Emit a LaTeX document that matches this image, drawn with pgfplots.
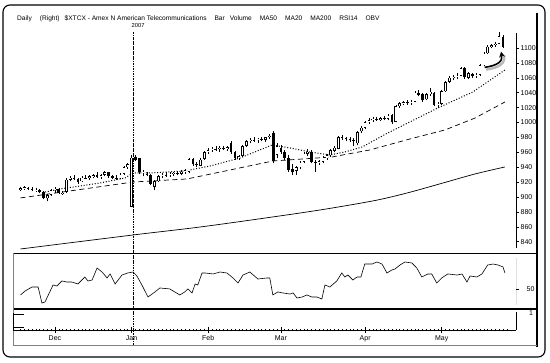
\documentclass[border=0pt]{standalone}
\usepackage{fontspec}
\setmainfont{Liberation Sans}
\usepackage{pgfplots}
\usepackage{pgfplotstable}
\pgfplotsset{compat=1.18}
\usetikzlibrary{arrows.meta}

% daily candles, x = trading day index (0 = 17 Nov 2006)
\pgfplotstableread{
i o h l c
0 910 914 908 912
1 912 915 910 913
4 909 912 907 910
7 898 904 894 902
8 903 911 901 909
9 909 913 906 911
11 905 908 903 906
12 907 925 906 923
13 923 928 921 926
16 921 928 920 926
18 925 930 923 928
19 927 931 925 929
21 927 931 924 929
22 930 935 928 933
26 925 932 924 930
27 931 942 930 940
28 940 946 938 944
29 887 956 886 953
32 932 936 928 934
35 914 923 910 921
36 921 930 920 928
37 928 932 926 930
39 929 933 927 931
40 931 934 928 932
42 931 936 929 934
43 934 938 931 936
44 934 953 932 951
47 942 952 941 950
48 951 962 950 960
49 961 966 958 963
50 963 967 961 965
52 964 968 961 966
54 965 968 962 967
57 953 957 950 955
58 955 970 954 968
59 969 977 967 975
60 975 979 972 977
62 976 979 973 978
64 977 981 974 980
65 980 984 978 982
67 957 972 952 968
72 935 942 930 940
73 940 948 938 946
74 947 960 945 958
75 958 964 955 961
78 946 950 943 948
79 947 955 945 953
80 952 958 950 956
81 956 965 954 963
82 962 968 960 966
83 965 982 964 980
88 972 988 970 987
89 988 995 986 993
90 993 1002 991 1000
91 1000 1006 998 1003
92 1003 1007 1001 1005
94 1004 1008 1002 1006
96 1005 1011 1003 1009
98 1001 1024 1000 1022
99 1022 1028 1020 1026
100 1026 1029 1023 1027
102 1026 1030 1024 1028
103 1028 1042 1027 1040
106 1031 1040 1030 1038
107 1038 1046 1036 1041
109 1024 1027 1019 1025
110 1025 1044 1024 1042
111 1042 1056 1041 1054
112 1055 1063 1053 1060
113 1060 1064 1057 1061
114 1061 1066 1058 1063
115 1063 1075 1062 1073
117 1060 1068 1058 1066
119 1063 1066 1060 1064
120 1064 1079 1063 1077
121 1077 1094 1076 1092
122 1093 1104 1092 1102
123 1102 1106 1100 1104
124 1104 1108 1102 1106
125 1106 1121 1105 1116
}\up

\pgfplotstableread{
i o h l c
2 912 914 909 911
3 911 913 908 909
5 909 911 905 907
6 907 908 897 899
10 911 912 904 905
14 926 929 923 925
15 924 926 918 920
17 926 929 924 925
20 929 933 926 927
23 933 934 926 928
24 928 930 924 926
25 926 929 923 925
30 954 956 948 950
31 952 953 931 933
33 931 934 928 930
34 930 931 916 918
38 930 933 927 929
41 932 935 929 931
45 951 952 942 944
46 944 947 940 943
51 965 968 962 964
53 966 969 963 965
55 972 975 958 960
56 960 962 950 952
61 977 980 974 976
63 978 981 975 977
66 986 988 945 948
68 966 970 958 961
69 961 963 950 952
70 952 956 934 936
71 937 944 930 933
76 961 963 945 947
77 947 950 934 946
84 980 983 977 979
85 979 981 975 978
86 978 980 974 977
87 977 979 968 975
93 1005 1008 1002 1004
95 1006 1009 1003 1005
97 1010 1012 998 1000
101 1027 1030 1024 1026
104 1040 1043 1035 1037
105 1038 1040 1028 1030
108 1040 1041 1022 1024
116 1073 1074 1059 1061
118 1065 1067 1060 1063
126 1115 1117 1100 1102
}\dn

\pgfplotstableread{
i v
6.4 906.7
10.3 910.7
20.8 918.8
27.3 925.5
29.4 932.2
33.8 932.2
42.9 934.9
49.5 941.6
57.3 952.3
65.7 969.8
70.4 965.8
75.6 960.4
80.8 956.4
84.7 960.4
89.2 967.1
95.9 985.9
109.5 1020.8
118.1 1040.9
126.5 1070.5
}\maA

\pgfplotstableread{
i v
0 898.7
29.4 920.1
43.5 924.2
65.9 948.3
81.3 953.7
91.2 963.1
101.7 977.9
110.8 989.9
118.7 1006
126.5 1027.5
}\maB

\pgfplotstableread{
i v
0 830.2
29.4 849
46.9 859.7
65.9 873.2
79.5 883.6
92.6 895.3
101.2 905.7
110 918.3
118.7 930.9
126.5 940.3
}\maC

\pgfplotstableread{
i v
0 43.8
1.2 48.3
3 52.8
4.6 52.8
5.6 34.8
6.4 35.9
8.5 55.1
9.5 53.9
10.8 59.6
12.1 58.4
13.4 58.4
15 56.2
16.8 64.1
17.6 59.6
18.7 60.7
20 74.2
21.3 69.7
22.6 63
23.4 67.5
24.7 56.2
26.5 66.3
28 68.6
29.4 69.7
30.4 65.2
31.7 55.1
33.3 41.5
35.1 47.2
36.4 51.7
39 50.6
41.6 43.8
42.9 47.2
43.7 50.6
44.8 46.1
45.6 56.2
46.3 55.1
47.4 68.6
48.2 68.6
50.3 67.5
52.1 69.7
53.9 68.6
55.5 63
56.8 57.3
58.1 66.3
59.9 69.7
62 61.8
64.4 63
65.1 63
65.9 43.8
67.2 47.2
68.5 46.1
70.4 44.9
71.2 46.1
72.2 40.4
73.5 41.5
74.8 43.8
76.1 41.5
77.4 41.5
78.7 39.3
79.5 55.1
80.8 52.8
82.6 59.6
83.9 68.6
84.7 64.1
85.5 66.3
86.8 60.7
87.9 64.1
88.9 64.1
89.9 78.7
91.8 78.7
93.1 81
94.4 78.7
95.7 68.6
97 72
97.8 73.1
99.1 77.6
100.4 81
102.2 79.9
103.5 74.2
104.8 64.1
106.4 67.5
107.4 67.5
108.7 57.3
110 63
111.6 67.5
114 66.3
115.3 67.5
116.6 58.4
117.4 65.2
119.2 64.1
120.5 67.5
122 77.6
123.4 78.7
124.7 77.6
126 75.4
126.5 68.6
}\rsi

\pgfplotsset{
  candle/.style={only marks, mark=*, mark size=0pt,
    mark options={draw=none, fill=none}, forget plot,
    error bars/y dir=plus, error bars/y explicit, error bars/error mark=none},
  panel/.style={anchor=south west, scale only axis, width=503bp,
    xmin=-1.96, xmax=129.4,
    tick style={black, line width=0.5bp}}
}
\tikzset{lbl/.style={font=\fontsize{7bp}{8bp}\selectfont}}
\newcommand{\gap}{\hspace{8bp}}
\newcommand{\sgap}{\hspace{5bp}}

\begin{document}
\begin{tikzpicture}
\useasboundingbox (0bp,0bp) rectangle (550bp,363bp);
% outer frame and panel lines
\draw[line width=1.1bp, rounded corners=7bp] (3bp,6bp) rectangle (545bp,358bp);
\draw[line width=1.5bp] (537bp,350bp) -- (537bp,16bp);
\draw[line width=1.5bp] (13bp,109.5bp) -- (537bp,109.5bp);
\draw[line width=1.5bp] (13bp,54bp) -- (537bp,54bp);
\draw[gray, line width=0.5bp] (13bp,109.5bp) -- (13bp,18bp) -- (537bp,18bp);
% Jan 2007 separator
\draw[line width=0.6bp, dash pattern=on 2.5bp off 1bp on 0.6bp off 1bp] (133bp,331bp) -- (133bp,18bp);
\node[anchor=west, inner sep=0, font=\fontsize{5.8bp}{6bp}\selectfont] at (131.5bp,337.5bp) {2007};
% title
\node[anchor=base west, inner sep=0, font=\fontsize{6.6bp}{8bp}\selectfont] at (17bp,342bp)
 {Daily\gap(Right)\sgap\$XTCX - Amex N American Telecommunications\gap Bar\sgap Volume\gap MA50\gap MA20\gap MA200\gap RSI14\gap OBV};

% ---------- price panel ----------
\begin{axis}[panel, at={(13bp,110bp)}, height=226bp,
  ymin=824.8, ymax=1128.2,
  axis x line=none, axis y line*=right, y axis line style={draw=none},
  ytick={840,860,...,1100}, tick align=outside, major tick length=3bp,
  yticklabel style={lbl, inner sep=1.5bp,
    /pgf/number format/assume math mode=true,
    /pgf/number format/1000 sep={}},
  clip=false]
\draw[line width=0.7bp] (rel axis cs:1,0.973) -- (rel axis cs:1,0.022);
% moving averages
\addplot[black, line width=0.7bp, smooth] table[x=i,y=v] {\maC};
\addplot[black, line width=0.7bp, dash pattern=on 5bp off 3.5bp] table[x=i,y=v] {\maB};
\addplot[black, line width=1bp, dash pattern=on 1bp off 1.8bp] table[x=i,y=v] {\maA};
% wicks
\addplot[candle, error bars/error bar style={black, line width=0.5bp}]
  table[x=i, y=l, y error expr=\thisrow{h}-\thisrow{l}] {\up};
\addplot[candle, error bars/error bar style={black, line width=0.5bp}]
  table[x=i, y=l, y error expr=\thisrow{h}-\thisrow{l}] {\dn};
% bodies
\addplot[candle, error bars/error bar style={black, line width=2.6bp}]
  table[x=i, y=c, y error expr=\thisrow{o}-\thisrow{c}] {\dn};
\addplot[candle, error bars/error bar style={black, line width=2.6bp}]
  table[x=i, y=o, y error expr=\thisrow{c}-\thisrow{o}] {\up};
\addplot[candle, error bars/error bar style={white, line width=1.6bp}]
  table[x=i, y expr=\thisrow{o}+0.7, y error expr=\thisrow{c}-\thisrow{o}-1.4] {\up};
% annotation arrow
\draw[gray!55, line width=2.4bp] (axis cs:121.6,1071) .. controls (axis cs:125.0,1073.5) and (axis cs:126.6,1079) .. (axis cs:126.3,1090);
\draw[black, line width=1.6bp, -{Stealth[length=5.5bp,width=6bp]}] (axis cs:121.2,1074) .. controls (axis cs:124.6,1076.5) and (axis cs:126.0,1082) .. (axis cs:125.5,1095);
\end{axis}

% ---------- RSI panel ----------
\begin{axis}[panel, at={(13bp,54bp)}, height=55bp,
  ymin=28, ymax=90,
  axis x line=none, axis y line*=right, y axis line style={draw=none},
  ytick={50}, tick align=outside, major tick length=3bp,
  yticklabel style={lbl, inner sep=1.5bp, xshift=6bp,
    /pgf/number format/assume math mode=true}]
\draw[line width=0.7bp] (rel axis cs:1,0.927) -- (rel axis cs:1,0.073);
\addplot[black, line width=0.6bp] table[x=i,y=v] {\rsi};
\end{axis}

% ---------- OBV panel / date axis ----------
\begin{axis}[panel, at={(13bp,33bp)}, height=21bp,
  ymin=0, ymax=1.235, clip=false,
  axis x line*=bottom, axis y line=none,
  axis line style={line width=0.7bp},
  xtick={9,29,49,68,90,110}, xticklabels={Dec,Jan,Feb,Mar,Apr,May},
  minor xtick={0,1,...,127},
  tick align=center, major tick length=6bp, minor tick length=2.5bp,
  xticklabel style={lbl, inner sep=2bp}]
\addplot[draw=none, forget plot] coordinates {(0,0.5) (127,0.5)};
\draw[line width=0.7bp] (rel axis cs:0,0.81) -- (rel axis cs:0,0);
\draw[line width=0.5bp] (rel axis cs:0,0.76) -- ++(3bp,0);
\draw[line width=0.5bp] (rel axis cs:0,0.14) -- ++(3bp,0);
\draw[line width=0.7bp] (rel axis cs:1,0.86) -- (rel axis cs:1,0);
\node[lbl, anchor=west, inner sep=0] at ([xshift=13bp]rel axis cs:1,0.81) {1};
\end{axis}
\end{tikzpicture}
\end{document}
